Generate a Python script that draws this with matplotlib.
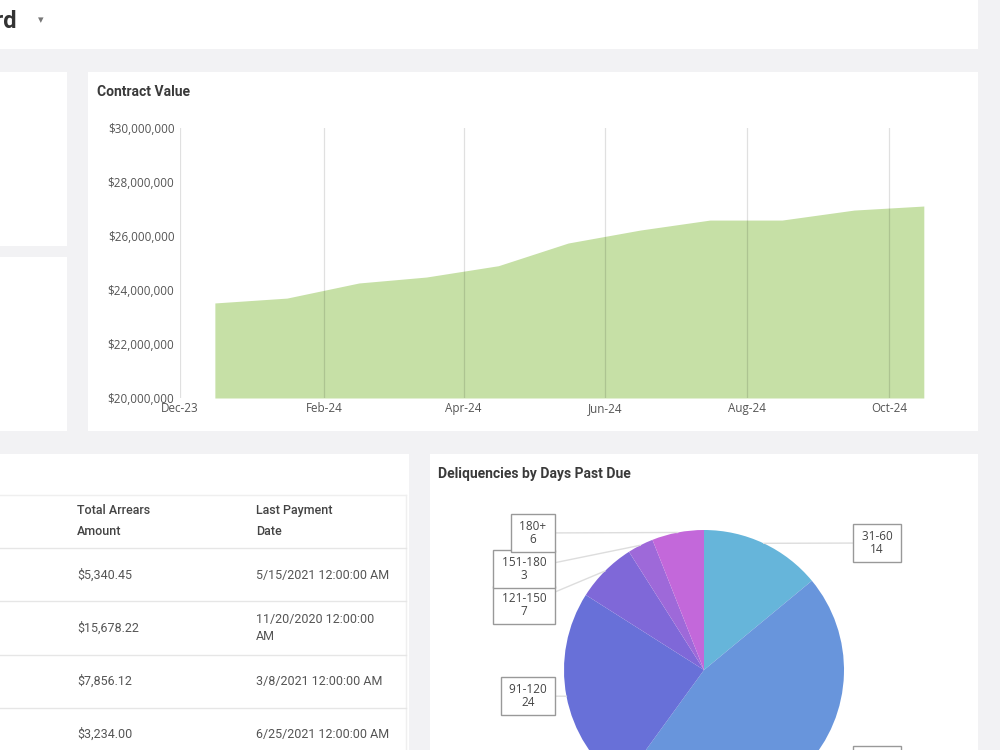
import matplotlib
matplotlib.use("Agg")
import matplotlib.pyplot as plt
import matplotlib.dates as mdates
from matplotlib.patches import Rectangle
from matplotlib.ticker import FuncFormatter
import numpy as np
import pandas as pd

# contract value per month
months = pd.to_datetime(["2023-12-16", "2024-01-16", "2024-02-16", "2024-03-16",
                         "2024-04-16", "2024-05-16", "2024-06-16", "2024-07-16",
                         "2024-08-16", "2024-09-16", "2024-10-16"])
contract_value = [23.52e6, 23.70e6, 24.26e6, 24.48e6, 24.90e6, 25.74e6,
                  26.22e6, 26.59e6, 26.59e6, 26.96e6, 27.11e6]

# delinquencies by days past due
dpd_buckets = ["31-60", "61-90", "91-120", "121-150", "151-180", "180+"]
dpd_counts = [14, 46, 24, 7, 3, 6]

# arrears table rows
arrears_amount = ["$5,340.45", "$15,678.22", "$7,856.12", "$3,234.00"]
last_payment = ["5/15/2021 12:00:00 AM", "11/20/2020 12:00:00\nAM",
                "3/8/2021 12:00:00 AM", "6/25/2021 12:00:00 AM"]

# styling
pie_colors = ["#66b5da", "#6895dc", "#6870d8", "#7f68d8", "#9e69d9", "#c368da"]
# where the pie label boxes sit (pixel centres, measured from the top left)
label_pos = [(877, 543), (877, 765), (528, 696), (524, 605), (524, 569), (533, 533)]

W, H = 1000, 750
plt.rcParams['font.family'] = ['Roboto', 'DejaVu Sans']

fig = plt.figure(figsize=(10, 7.5), dpi=100)
fig.patch.set_facecolor("#f2f2f4")


def fx(x):
    return x / W


def fy(y):
    return 1 - y / H


def panel(x0, y0, x1, y1):
    fig.add_artist(Rectangle((fx(x0), fy(y1)), (x1 - x0) / W, (y1 - y0) / H,
                             transform=fig.transFigure, facecolor="white",
                             edgecolor="none", zorder=0))


# white cards of the dashboard
panel(0, 0, 978, 49)
panel(0, 72, 67, 246)
panel(0, 257, 67, 431)
panel(88, 72, 978, 431)
panel(0, 454, 409, 750)
panel(430, 454, 978, 750)

# header (title is cut off by the screenshot)
fig.text(fx(17), fy(22), "Dashboard", ha="right", va="center", fontsize=17,
         fontweight="bold", color="#333333")
fig.text(fx(41), fy(20), "\u25BE", ha="center", va="center", fontsize=8,
         color="#777777", family=["DejaVu Sans"])

# ---- contract value area chart ----
fig.text(fx(97), fy(92), "Contract Value", ha="left", va="center", fontsize=10,
         fontweight="bold", color="#3a3a3a")

ax = fig.add_axes([fx(180), fy(398), (961 - 180) / W, (398 - 128) / H])
ax.set_facecolor("none")
ax.fill_between(months, contract_value, 20e6, color="#c6e0a6", lw=0, zorder=1)
ax.set_ylim(20e6, 30e6)
ax.set_xlim(pd.Timestamp("2023-12-01"), pd.Timestamp("2024-11-01"))
ax.set_yticks(np.arange(20e6, 30.1e6, 2e6))
ax.yaxis.set_major_formatter(FuncFormatter(lambda v, p: f"${v:,.0f}"))
ax.set_xticks(pd.to_datetime(["2023-12-01", "2024-02-01", "2024-04-01",
                              "2024-06-01", "2024-08-01", "2024-10-01"]))
ax.xaxis.set_major_formatter(mdates.DateFormatter("%b-%y"))
ax.grid(axis="x", color="black", alpha=0.12, lw=0.9, zorder=2)
ax.set_axisbelow(False)
for s in ax.spines.values():
    s.set_visible(False)
ax.tick_params(length=0, labelsize=8.4, labelcolor="#555555")
ax.tick_params(axis="y", pad=4)
ax.tick_params(axis="x", pad=3)
for lab in ax.get_xticklabels() + ax.get_yticklabels():
    lab.set_family(["Open Sans", "DejaVu Sans"])

# ---- table ----
lc = "#e6e6e6"
fig.add_artist(plt.Line2D([0, fx(406)], [fy(495), fy(495)], color="#efefef", lw=1))
fig.add_artist(plt.Line2D([fx(406), fx(406)], [fy(495), 0], color="#efefef", lw=1))
for yy in [548, 601, 655, 708]:
    fig.add_artist(plt.Line2D([0, fx(406)], [fy(yy), fy(yy)], color=lc, lw=1))

fig.text(fx(77), fy(521), "Total Arrears\nAmount", ha="left", va="center",
         fontsize=9, fontweight="medium", color="#444444", linespacing=1.75)
fig.text(fx(256), fy(521), "Last Payment\nDate", ha="left", va="center",
         fontsize=9, fontweight="medium", color="#444444", linespacing=1.75)
for i, (amt, dt) in enumerate(zip(arrears_amount, last_payment)):
    yc = 575 + i * 53.2
    fig.text(fx(77), fy(yc), amt, ha="left", va="center", fontsize=9, color="#555555")
    fig.text(fx(256), fy(yc), dt, ha="left", va="center", fontsize=9,
             color="#555555", linespacing=1.45)

# ---- pie chart ----
fig.text(fx(438), fy(474), "Deliquencies by Days Past Due", ha="left", va="center",
         fontsize=10, fontweight="bold", color="#3a3a3a")

ax2 = fig.add_axes([fx(564), fy(810), 280 / W, 280 / H])
wedges, _ = ax2.pie(dpd_counts, colors=pie_colors, startangle=90,
                    counterclock=False, radius=1, wedgeprops=dict(lw=0))
ax2.set_xlim(-1, 1)
ax2.set_ylim(-1, 1)

total = sum(dpd_counts)
start = 90.0
for name, cnt, (lx, ly) in zip(dpd_buckets, dpd_counts, label_pos):
    sweep = cnt / total * 360
    mid = np.deg2rad(start - sweep / 2)
    start -= sweep
    ax2.annotate(f" {name} \n{cnt}", xy=(np.cos(mid), np.sin(mid)),
                 xytext=(lx, H - ly), textcoords="figure pixels",
                 ha="center", va="center", fontsize=8.5, color="#444444",
                 family=["Open Sans", "DejaVu Sans"], linespacing=1.0,
                 bbox=dict(boxstyle="square,pad=0.47", fc="white", ec="#999999", lw=1),
                 arrowprops=dict(arrowstyle="-", color="#dddddd", lw=1,
                                 shrinkA=0, shrinkB=0),
                 annotation_clip=False)

fig.savefig("out.png", dpi=100, facecolor=fig.get_facecolor())
